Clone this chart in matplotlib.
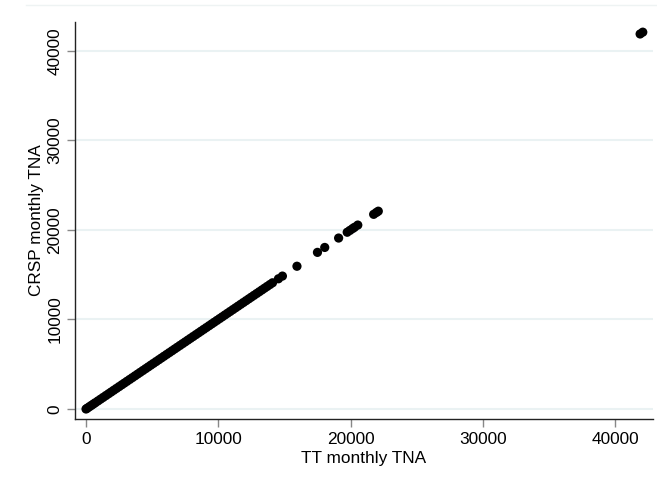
import matplotlib
matplotlib.use("Agg")
import matplotlib.pyplot as plt
from matplotlib.lines import Line2D

# Dense diagonal band (TT TNA vs CRSP TNA)
tt_tna = [0, 100, 250, 400, 550, 700, 900, 1100, 1300, 1500, 1700, 1900, 2100, 2300,
          2500, 2700, 2900, 3100, 3300, 3500, 3700, 3900, 4100, 4300, 4500, 4700,
          4900, 5100, 5300, 5500, 5700, 5900, 6100, 6300, 6500, 6700, 6900, 7100,
          7300, 7500, 7700, 7900, 8100, 8300, 8500, 8700, 8900, 9100, 9300, 9500,
          9700, 9900, 10100, 10300, 10500, 10700, 10900, 11100, 11300, 11500, 11700,
          11900, 12100, 12300, 12500, 12700, 12900, 13100, 13300, 13500, 13700, 13900,
          14100, 14550, 14850, 15950, 17500, 18050, 19100, 19750, 19950, 20150,
          20300, 20550, 21750, 21950, 22100, 41900, 42100]
crsp_tna = [0, 100, 250, 400, 550, 700, 900, 1100, 1300, 1500, 1700, 1900, 2100, 2300,
            2500, 2700, 2900, 3100, 3300, 3500, 3700, 3900, 4100, 4300, 4500, 4700,
            4900, 5100, 5300, 5500, 5700, 5900, 6100, 6300, 6500, 6700, 6900, 7100,
            7300, 7500, 7700, 7900, 8100, 8300, 8500, 8700, 8900, 9100, 9300, 9500,
            9700, 9900, 10100, 10300, 10500, 10700, 10900, 11100, 11300, 11500, 11700,
            11900, 12100, 12300, 12500, 12700, 12900, 13100, 13300, 13500, 13700, 13900,
            14100, 14550, 14850, 15950, 17500, 18050, 19100, 19750, 19950, 20150,
            20300, 20550, 21750, 21950, 22100, 41900, 42100]
tick_values = [0, 10000, 20000, 30000, 40000]
tick_labels = ["0", "10000", "20000", "30000", "40000"]

plt.rcParams['font.family'] = ['Liberation Sans', 'DejaVu Sans']

fig = plt.figure(figsize=(6.57, 4.82), dpi=100)
ax = fig.add_axes([0.1142, 0.1307, 0.9939 - 0.1142, 0.9544 - 0.1307])

ax.scatter(tt_tna, crsp_tna, s=44, color="black", edgecolors="none", zorder=3)

ax.set_xlim(-832, 42873)
ax.set_ylim(-1117, 43240)
ax.set_xticks(tick_values)
ax.set_xticklabels(tick_labels)
ax.set_yticks(tick_values)
ax.set_yticklabels(tick_labels, rotation=90, va="center")

ax.grid(axis="y", color="#EAF2F3", linewidth=1.5, zorder=0)
ax.grid(axis="x", visible=False)
ax.set_axisbelow(True)

for side in ["top", "right"]:
    ax.spines[side].set_visible(False)
for side in ["left", "bottom"]:
    ax.spines[side].set_color("#222222")
    ax.spines[side].set_linewidth(1.0)

ax.tick_params(axis="both", direction="out", length=6, width=1, color="#888888",
               labelsize=12.4, labelcolor="black", pad=3)

ax.set_xlabel("TT monthly TNA", fontsize=12.4, labelpad=3)
ax.set_ylabel("CRSP monthly TNA", fontsize=12.4, labelpad=2.5)

fig.add_artist(Line2D([0.04, 1.0], [0.99, 0.99], transform=fig.transFigure,
                      color="#EEF3F3", linewidth=1))

fig.savefig("out.png", dpi=100, facecolor="white")
